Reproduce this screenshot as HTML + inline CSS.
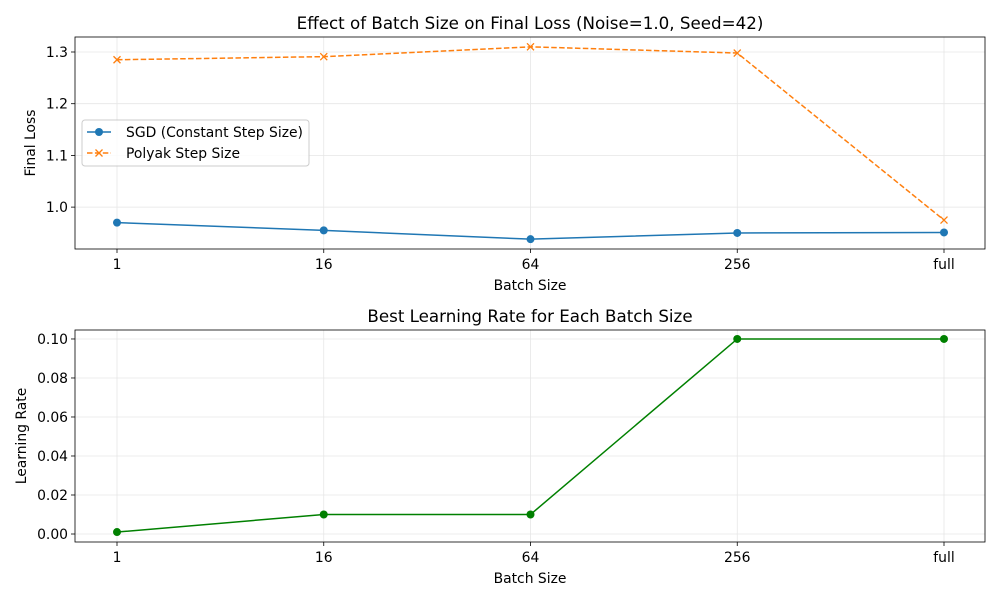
<!DOCTYPE html>
<html><head><meta charset="utf-8"><style>
body{margin:0;background:#fff;}
svg{display:block;font-family:"DejaVu Sans","Liberation Sans",sans-serif;}
</style></head><body>
<svg id="chart" width="1000" height="600" xmlns="http://www.w3.org/2000/svg"></svg>
<script>
const categories = ["1","16","64","256","full"];
const sgdLoss = [0.970, 0.955, 0.938, 0.950, 0.951];
const polyakLoss = [1.285, 1.291, 1.310, 1.298, 0.975];
const bestLR = [0.001, 0.01, 0.01, 0.1, 0.1];
const lossTicks = [1.0, 1.1, 1.2, 1.3];
const lrTicks = [0.00, 0.02, 0.04, 0.06, 0.08, 0.10];

const svg = document.getElementById('chart');
const NS = 'http://www.w3.org/2000/svg';
const FS = 13.9, TFS = 16.7;
function mk(tag, attrs, parent, text){
  const e = document.createElementNS(NS, tag);
  for (const k in attrs) e.setAttribute(k, attrs[k]);
  if (text !== undefined) e.textContent = text;
  (parent || svg).appendChild(e);
  return e;
}
const L = 75, R = 985;
function xScale(i){ return 117 + i * (944 - 117) / (categories.length - 1); }

function panel(top, bottom, yMin, yMax, ticks, fmt, title, ylabel, name){
  const g = mk('g', {});
  
  
  const y = v => bottom - (v - yMin) / (yMax - yMin) * (bottom - top);
  categories.forEach((c, i) => {
    const gl = mk('line', {x1: xScale(i), x2: xScale(i), y1: top, y2: bottom, stroke: '#e6e6e6', 'stroke-width': 0.8}, g);
    
    
  });
  ticks.forEach(t => {
    const gl = mk('line', {x1: L, x2: R, y1: y(t), y2: y(t), stroke: '#e6e6e6', 'stroke-width': 0.8}, g);
    
    
  });
  const fr = mk('rect', {x: L, y: top, width: R - L, height: bottom - top, fill: 'none', stroke: '#000', 'stroke-width': 0.8}, g);
  
  
  categories.forEach((c, i) => {
    mk('line', {x1: xScale(i), x2: xScale(i), y1: bottom, y2: bottom + 4, stroke: '#000', 'stroke-width': 0.8}, g);
    const t = mk('text', {x: xScale(i), y: bottom + 20, 'text-anchor': 'middle', 'font-size': FS}, g, c);
    
    
  });
  ticks.forEach(v => {
    mk('line', {x1: L - 4, x2: L, y1: y(v), y2: y(v), stroke: '#000', 'stroke-width': 0.8}, g);
    const t = mk('text', {x: L - 7, y: y(v) + 5, 'text-anchor': 'end', 'font-size': FS}, g, fmt(v));
    
    
  });
  const tt = mk('text', {x: (L + R) / 2, y: top - 8, 'text-anchor': 'middle', 'font-size': TFS}, g, title);
  
  
  const xl = mk('text', {x: (L + R) / 2, y: bottom + 41, 'text-anchor': 'middle', 'font-size': FS}, g, 'Batch Size');
  
  
  const cy = (top + bottom) / 2;
  const yl = mk('text', {x: 0, y: 0, 'text-anchor': 'middle', 'font-size': FS, transform: `translate(${name === 'loss-panel' ? 35 : 26},${cy}) rotate(-90)`}, g, ylabel);
  
  
  return {g, y};
}

const p1 = panel(37, 249, 0.919, 1.329, lossTicks, v => v.toFixed(1), 'Effect of Batch Size on Final Loss (Noise=1.0, Seed=42)', 'Final Loss', 'loss-panel');
const sgdLine = mk('polyline', {points: sgdLoss.map((v, i) => xScale(i) + ',' + p1.y(v)).join(' '), fill: 'none', stroke: '#1f77b4', 'stroke-width': 1.5}, p1.g);


sgdLoss.forEach((v, i) => {
  const c = mk('circle', {cx: xScale(i), cy: p1.y(v), r: 4, fill: '#1f77b4'}, p1.g);
  
  
});
const polyLine = mk('polyline', {points: polyakLoss.map((v, i) => xScale(i) + ',' + p1.y(v)).join(' '), fill: 'none', stroke: '#ff7f0e', 'stroke-width': 1.5, 'stroke-dasharray': '5.5,2.4'}, p1.g);


function xMark(cx, cy, parent){
  return mk('path', {d: `M${cx-3.5},${cy-3.5}L${cx+3.5},${cy+3.5}M${cx-3.5},${cy+3.5}L${cx+3.5},${cy-3.5}`, stroke: '#ff7f0e', 'stroke-width': 1.3, fill: 'none'}, parent);
}
polyakLoss.forEach((v, i) => {
  const m = xMark(xScale(i), p1.y(v), p1.g);
  
  
});
const lg = mk('g', {});


mk('rect', {x: 82, y: 120, width: 227, height: 46, rx: 3, fill: '#fff', 'fill-opacity': 0.8, stroke: '#ccc'}, lg);
mk('line', {x1: 87, x2: 111, y1: 132, y2: 132, stroke: '#1f77b4', 'stroke-width': 1.5}, lg);
mk('circle', {cx: 99, cy: 132, r: 4, fill: '#1f77b4'}, lg);
const le1 = mk('text', {x: 126, y: 137, 'font-size': FS}, lg, 'SGD (Constant Step Size)');


mk('line', {x1: 87, x2: 111, y1: 153, y2: 153, stroke: '#ff7f0e', 'stroke-width': 1.5, 'stroke-dasharray': '5.5,2.4'}, lg);
xMark(99, 153, lg);
const le2 = mk('text', {x: 126, y: 158, 'font-size': FS}, lg, 'Polyak Step Size');



const p2 = panel(330, 542, -0.0041, 0.1046, lrTicks, v => v.toFixed(2), 'Best Learning Rate for Each Batch Size', 'Learning Rate', 'lr-panel');
const lrLine = mk('polyline', {points: bestLR.map((v, i) => xScale(i) + ',' + p2.y(v)).join(' '), fill: 'none', stroke: '#008000', 'stroke-width': 1.5}, p2.g);


bestLR.forEach((v, i) => {
  const c = mk('circle', {cx: xScale(i), cy: p2.y(v), r: 4, fill: '#008000'}, p2.g);
  
  
});
</script>
</body></html>
